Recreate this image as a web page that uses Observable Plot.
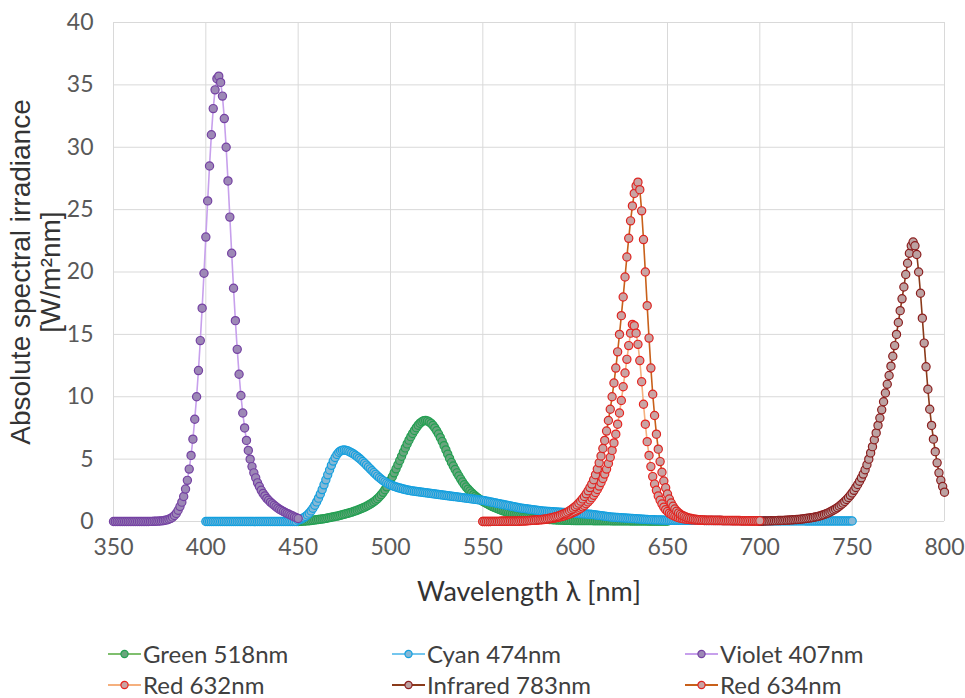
<!DOCTYPE html>
<html><head><meta charset="utf-8">
<script src="https://cdn.jsdelivr.net/npm/d3@7"></script>
<script src="https://cdn.jsdelivr.net/npm/@observablehq/plot@0.6"></script>
<style>
body{margin:0;background:#fff;}
#wrap{position:relative;width:965px;height:698px;overflow:hidden;}
.leg{position:absolute;display:flex;align-items:center;font-family:Lato,"Open Sans",sans-serif;font-size:24px;color:#404040;white-space:nowrap;height:28px;line-height:28px;}
.leg svg{margin-right:2px;}
</style></head><body><div id="wrap"></div>
<script>
// ---- data (1 nm steps) ----
const xTicks = [350,400,450,500,550,600,650,700,750,800];
const yTicks = [0,5,10,15,20,25,30,35,40];
const xTitle = "Wavelength λ [nm]";
const yTitle = "Absolute spectral irradiance\n[W/m²nm]";

const seriesNames = ["Green 518nm","Cyan 474nm","Violet 407nm","Red 632nm","Infrared 783nm","Red 634nm"];
const seriesStart = [450,400,350,550,700,550];

const green518 = [
0,0.01,0.02,0.03,0.04,0.05,0.06,0.08,0.1,0.12,
0.14,0.16,0.18,0.2,0.22,0.25,0.28,0.31,0.34,0.37,
0.4,0.43,0.46,0.5,0.54,0.58,0.62,0.66,0.7,0.75,
0.8,0.85,0.9,0.96,1.02,1.08,1.15,1.22,1.3,1.39,
1.48,1.58,1.7,1.83,1.98,2.15,2.34,2.55,2.78,3.03,
3.3,3.59,3.9,4.22,4.55,4.89,5.23,5.57,5.9,6.22,
6.52,6.8,7.06,7.3,7.52,7.72,7.88,8.0,8.08,8.1,
8.06,7.98,7.86,7.7,7.5,7.27,7.01,6.72,6.41,6.08,
5.74,5.4,5.06,4.73,4.45,4.17,3.9,3.65,3.4,3.17,
2.95,2.76,2.59,2.44,2.29,2.15,2.03,1.91,1.8,1.7,
1.6,1.52,1.44,1.36,1.28,1.2,1.14,1.08,1.02,0.96,
0.9,0.85,0.8,0.75,0.7,0.65,0.61,0.57,0.53,0.49,
0.45,0.42,0.39,0.37,0.34,0.32,0.3,0.28,0.26,0.24,
0.22,0.21,0.2,0.19,0.18,0.17,0.16,0.15,0.14,0.13,
0.12,0.12,0.11,0.11,0.1,0.1,0.09,0.09,0.08,0.08,
0.07,0.07,0.07,0.07,0.07,0.07,0.07,0.07,0.07,0.07,
0.06,0.06,0.06,0.06,0.06,0.06,0.06,0.06,0.06,0.06,
0.05,0.05,0.05,0.05,0.05,0.05,0.05,0.05,0.05,0.05,
0.04,0.04,0.04,0.04,0.04,0.04,0.04,0.04,0.04,0.04,
0.03,0.03,0.03,0.03,0.03,0.03,0.03,0.03,0.03,0.03,
0.03];

const cyan474 = [
0,0,0,0,0,0,0,0,0,0,
0,0,0,0,0,0,0,0,0,0,
0,0,0,0,0,0,0,0,0,0,
0,0,0,0,0,0,0,0,0,0,
0,0,0,0,0,0,0,0,0,0,
0.1,0.15,0.22,0.3,0.4,0.52,0.67,0.85,1.06,1.3,
1.57,1.87,2.2,2.56,2.94,3.34,3.74,4.13,4.5,4.84,
5.13,5.37,5.55,5.66,5.72,5.73,5.7,5.65,5.58,5.5,
5.41,5.31,5.2,5.08,4.95,4.81,4.67,4.52,4.37,4.22,
4.07,3.92,3.78,3.64,3.51,3.39,3.28,3.18,3.09,3.01,
2.94,2.88,2.82,2.77,2.72,2.68,2.64,2.6,2.56,2.53,
2.5,2.47,2.45,2.43,2.41,2.39,2.37,2.35,2.33,2.31,
2.29,2.27,2.25,2.23,2.21,2.19,2.17,2.15,2.13,2.11,
2.09,2.07,2.05,2.03,2.01,1.99,1.97,1.95,1.93,1.91,
1.89,1.87,1.85,1.83,1.81,1.79,1.77,1.75,1.73,1.71,
1.69,1.66,1.63,1.6,1.57,1.54,1.51,1.48,1.45,1.42,
1.39,1.36,1.33,1.3,1.27,1.24,1.21,1.18,1.15,1.12,
1.09,1.07,1.05,1.03,1.01,0.99,0.97,0.95,0.93,0.91,
0.89,0.87,0.85,0.83,0.82,0.81,0.8,0.79,0.78,0.77,
0.76,0.75,0.74,0.73,0.72,0.71,0.7,0.69,0.68,0.67,
0.66,0.65,0.64,0.63,0.62,0.61,0.6,0.59,0.58,0.57,
0.55,0.53,0.51,0.49,0.47,0.45,0.43,0.41,0.39,0.37,
0.35,0.34,0.33,0.32,0.31,0.3,0.29,0.28,0.27,0.26,
0.25,0.24,0.23,0.22,0.21,0.2,0.19,0.18,0.17,0.16,
0.15,0.15,0.14,0.14,0.13,0.13,0.12,0.12,0.11,0.11,
0.1,0.1,0.1,0.1,0.1,0.1,0.1,0.1,0.1,0.1,
0.09,0.09,0.09,0.09,0.09,0.09,0.09,0.09,0.09,0.09,
0.08,0.08,0.08,0.08,0.08,0.08,0.08,0.08,0.08,0.08,
0.07,0.07,0.07,0.07,0.07,0.07,0.07,0.07,0.07,0.07,
0.06,0.06,0.06,0.06,0.06,0.06,0.06,0.06,0.06,0.06,
0.05,0.05,0.05,0.05,0.05,0.05,0.05,0.05,0.05,0.05,
0.05,0.05,0.05,0.05,0.05,0.05,0.05,0.05,0.05,0.05,
0.05,0.05,0.05,0.05,0.05,0.04,0.04,0.04,0.04,0.04,
0.04,0.04,0.04,0.04,0.04,0.04,0.04,0.04,0.04,0.04,
0.04,0.04,0.04,0.04,0.04,0.04,0.04,0.04,0.04,0.04,
0.04];

const violet407 = [
0,0,0,0,0,0,0,0,0,0,
0,0,0,0,0,0,0,0,0,0,
0.01,0.01,0.02,0.02,0.03,0.04,0.05,0.07,0.1,0.13,
0.18,0.25,0.35,0.48,0.65,0.9,1.2,1.55,2.0,2.6,
3.3,4.2,5.3,6.6,8.2,10.0,12.1,14.5,17.1,19.9,
22.8,25.7,28.5,31.0,33.1,34.6,35.5,35.7,35.2,34.1,
32.3,30.0,27.3,24.4,21.5,18.7,16.1,13.8,11.8,10.1,
8.7,7.5,6.5,5.7,5.0,4.4,3.9,3.5,3.1,2.8,
2.5,2.25,2.05,1.85,1.7,1.55,1.42,1.3,1.18,1.07,
0.97,0.88,0.8,0.72,0.65,0.58,0.51,0.44,0.37,0.3,
0.24];

const red632 = [
0,0,0,0,0,0.01,0.01,0.01,0.01,0.01,
0.02,0.02,0.02,0.02,0.02,0.03,0.03,0.03,0.03,0.03,
0.04,0.04,0.05,0.05,0.06,0.07,0.08,0.09,0.1,0.11,
0.12,0.13,0.14,0.15,0.17,0.19,0.21,0.23,0.25,0.28,
0.31,0.34,0.37,0.41,0.45,0.5,0.55,0.6,0.66,0.72,
0.79,0.87,0.96,1.06,1.17,1.29,1.42,1.57,1.73,1.91,
2.11,2.33,2.57,2.84,3.13,3.45,3.8,4.2,4.65,5.15,
5.7,6.3,7.0,7.8,8.7,9.7,10.8,11.9,13.0,14.1,
15.1,15.8,15.7,15.1,14.2,12.9,11.2,9.4,7.8,6.4,
5.3,4.4,3.6,3.0,2.5,2.05,1.7,1.4,1.15,0.95,
0.8,0.67,0.57,0.49,0.42,0.36,0.31,0.27,0.24,0.21,
0.19,0.17,0.15,0.14,0.13,0.12,0.11,0.1,0.09,0.09,
0.08,0.08,0.08,0.08,0.08,0.07,0.07,0.07,0.07,0.07,
0.06,0.06,0.06,0.06,0.06,0.05,0.05,0.05,0.05,0.05,
0.04,0.04,0.04,0.04,0.04,0.03,0.03,0.03,0.03,0.03,
0.03];

const infrared783 = [
0.03,0.03,0.04,0.04,0.05,0.05,0.06,0.06,0.07,0.07,
0.08,0.08,0.09,0.09,0.1,0.11,0.12,0.13,0.14,0.15,
0.16,0.17,0.18,0.2,0.22,0.24,0.26,0.28,0.3,0.33,
0.36,0.39,0.43,0.47,0.52,0.57,0.63,0.69,0.76,0.84,
0.92,1.01,1.11,1.22,1.34,1.47,1.61,1.76,1.92,2.1,
2.29,2.5,2.73,2.97,3.23,3.5,3.8,4.15,4.55,5.0,
5.5,6.0,6.55,7.1,7.7,8.3,8.95,9.6,10.3,11.0,
11.7,12.45,13.25,14.1,15.0,15.95,16.9,17.85,18.8,19.8,
20.7,21.5,22.1,22.4,22.1,21.4,20.0,18.3,16.3,14.3,
12.4,10.6,9.0,7.7,6.6,5.6,4.7,3.9,3.3,2.8,
2.35];

const red634 = [
0,0,0,0,0,0.01,0.01,0.01,0.01,0.01,
0.02,0.02,0.02,0.02,0.02,0.03,0.03,0.03,0.03,0.03,
0.04,0.05,0.05,0.06,0.07,0.08,0.09,0.1,0.11,0.12,
0.14,0.15,0.17,0.19,0.21,0.23,0.26,0.29,0.32,0.36,
0.4,0.45,0.5,0.56,0.62,0.69,0.77,0.86,0.96,1.07,
1.19,1.32,1.47,1.63,1.81,2.0,2.22,2.46,2.72,3.0,
3.35,3.75,4.2,4.7,5.25,5.85,6.5,7.25,8.1,9.0,
10.0,11.1,12.3,13.6,15.0,16.5,18.0,19.6,21.2,22.7,
24.1,25.3,26.3,26.9,27.2,26.6,24.9,22.6,20.0,17.3,
14.7,12.3,10.2,8.5,7.0,5.8,4.8,3.95,3.25,2.7,
2.2,1.8,1.48,1.22,1.0,0.83,0.69,0.58,0.49,0.42,
0.36,0.31,0.27,0.24,0.21,0.19,0.17,0.15,0.14,0.13,
0.12,0.11,0.11,0.11,0.11,0.1,0.1,0.1,0.1,0.1,
0.09,0.09,0.09,0.09,0.09,0.08,0.08,0.08,0.08,0.08,
0.07,0.07,0.07,0.07,0.07,0.06,0.06,0.06,0.06,0.06,
0.06];

const seriesValues = [green518, cyan474, violet407, red632, infrared783, red634];

// ---- styles ----
const lineColor   = ["#7fbf6e","#74c6ee","#c7a0ec","#f5b07e","#8a3a1a","#c8601a"];
const markerStroke= ["#23a052","#13a0df","#7542a3","#e8231f","#8c1e1e","#de2420"];
const markerFill  = ["#6aa57e","#86b8d6","#9d88b6","#c9a4a4","#bca2a2","#c9a4a4"];

const rows = seriesNames.map((name, k) =>
  seriesValues[k].map((v, i) => ({name, wl: seriesStart[k] + i, v})));

const marks = [
  Plot.ruleX(xTicks, {stroke: "#d9d9d9", strokeWidth: 1}),
  Plot.ruleY(yTicks, {stroke: "#d9d9d9", strokeWidth: 1})
];
rows.forEach((data, k) => {
  marks.push(Plot.line(data, {x: "wl", y: "v", stroke: lineColor[k], strokeWidth: 1.6}));
  marks.push(Plot.dot(data, {x: "wl", y: "v", r: 4.1, fill: markerFill[k], stroke: markerStroke[k], strokeWidth: 1.2}));
});
marks.push(Plot.text([xTitle], {text: d => d, frameAnchor: "bottom", dy: 79, fontSize: 27, fontFamily: "Lato, 'Open Sans', sans-serif", fill: "#333"}));
marks.push(Plot.text([yTitle], {text: d => d, frameAnchor: "left", textAnchor: "middle", rotate: -90, dx: -78, fontSize: 28, lineHeight: 1.08, fontFamily: "'Liberation Sans', Arial, sans-serif", fill: "#333"}));

const chart = Plot.plot({
  width: 965, height: 620,
  marginTop: 22, marginLeft: 113, marginRight: 21, marginBottom: 99,
  style: {fontSize: "23px", fontFamily: "Lato, 'Open Sans', sans-serif", color: "#595959", background: "white", overflow: "visible"},
  x: {domain: [350, 800], ticks: xTicks, tickSize: 0, tickPadding: 17, label: null},
  y: {domain: [0, 40], ticks: yTicks, tickSize: 0, tickPadding: 20, label: null},
  marks
});
const wrap = document.getElementById("wrap");
wrap.appendChild(chart);

// ---- legend ----
const legCols = [108, 392, 685];
const legRows = [654, 685];
seriesNames.forEach((name, k) => {
  const d = document.createElement("div");
  d.className = "leg";
  d.style.left = legCols[k % 3] + "px";
  d.style.top = (legRows[Math.floor(k / 3)] - 14) + "px";
  d.innerHTML = `<svg width="33" height="14"><line x1="0" x2="33" y1="7" y2="7" stroke="${lineColor[k]}" stroke-width="2"/><circle cx="16.5" cy="7" r="3.6" fill="${markerFill[k]}" stroke="${markerStroke[k]}" stroke-width="1.2"/></svg><span>${name}</span>`;
  wrap.appendChild(d);
});
</script></body></html>
